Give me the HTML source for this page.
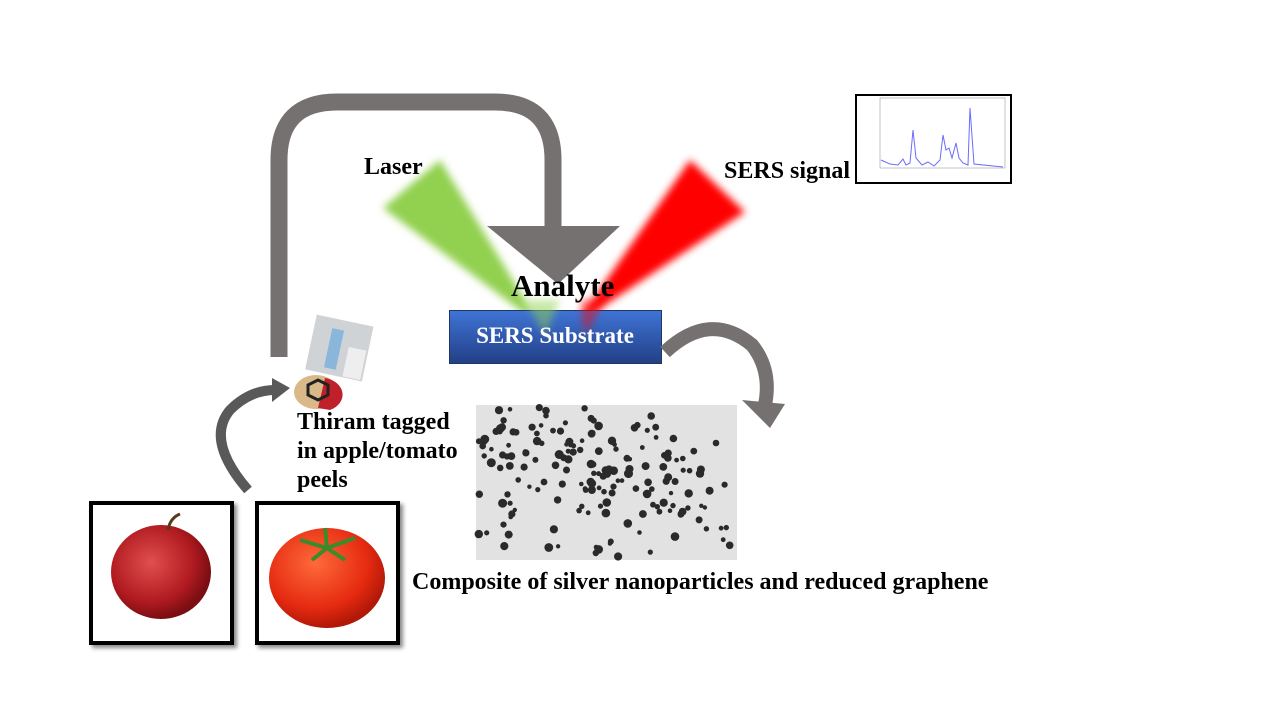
<!DOCTYPE html>
<html><head><meta charset="utf-8"><style>
body{margin:0;width:1280px;height:720px;background:#fff;overflow:hidden;position:relative;font-family:"Liberation Serif",serif;font-weight:bold}
.t{position:absolute;color:#000;white-space:nowrap}
.box{position:absolute;border:4px solid #000;background:#fff;box-shadow:3px 3px 4px #888;box-sizing:border-box}
</style></head><body>
<svg width="1280" height="720" style="position:absolute;left:0;top:0">
<defs>
<filter id="bl" x="-20%" y="-20%" width="140%" height="140%"><feGaussianBlur stdDeviation="4"/></filter>
<linearGradient id="bg" x1="0" y1="0" x2="0" y2="1"><stop offset="0" stop-color="#3f74d6"/><stop offset="1" stop-color="#233f86"/></linearGradient>
<radialGradient id="ap" cx="0.4" cy="0.4" r="0.6"><stop offset="0" stop-color="#e05050"/><stop offset="0.7" stop-color="#b01a20"/><stop offset="1" stop-color="#7a0e12"/></radialGradient>
<radialGradient id="tm" cx="0.4" cy="0.35" r="0.65"><stop offset="0" stop-color="#ff6a3a"/><stop offset="0.7" stop-color="#e52a10"/><stop offset="1" stop-color="#b01808"/></radialGradient>
</defs>
<path d="M279 357 V160 Q279 102 337 102 H495 Q553 102 553 160 V228" fill="none" stroke="#767171" stroke-width="17"/>
<polygon points="487,226 620,226 558,284" fill="#767171"/>
<polygon points="383,208 440,160 540,325" fill="#92d050" filter="url(#bl)"/>
<polygon points="690,160 745,212 575,325" fill="#ff0000" filter="url(#bl)"/>
<rect x="449.5" y="310.5" width="212" height="53" fill="url(#bg)" stroke="#1f3566"/>
<polygon points="525,300 560,300 545,335" fill="#92d050" opacity="0.5" filter="url(#bl)"/>
<polygon points="580,300 605,300 585,335" fill="#ff0000" opacity="0.5" filter="url(#bl)"/>
<path d="M665 352 Q710 310 752 345 Q772 370 765 405" fill="none" stroke="#767171" stroke-width="14"/>
<polygon points="742,400 785,404 770,428" fill="#767171"/>
<path d="M248 490 Q205 440 230 410 Q250 390 275 390" fill="none" stroke="#595959" stroke-width="10"/>
<polygon points="272,378 290,388 272,402" fill="#595959"/>
<rect x="856" y="95" width="155" height="88" fill="#fff" stroke="#000" stroke-width="2"/>
<rect x="880" y="98" width="125" height="70" fill="#fff" stroke="#888" stroke-width="0.5"/>
<polyline points="881,160 890,164 898,165 903,159 906,165 910,163 913,130 916,158 922,165 928,162 934,166 940,160 943,135 946,150 949,148 952,158 956,143 959,158 963,163 968,165 970,108 974,164 1003,167" fill="none" stroke="#6b6bff" stroke-width="1"/>
<g transform="rotate(12 340 340)"><rect x="312" y="320" width="58" height="56" fill="#cfd3d6"/><rect x="330" y="330" width="12" height="40" fill="#8ab6dc"/><rect x="350" y="345" width="18" height="30" fill="#eee"/></g>
<ellipse cx="316" cy="392" rx="22" ry="17" fill="#d9b98a"/><path d="M325 378 A22 17 0 0 1 330 410 L318 408Z" fill="#c0202a"/>
<polygon points="308,385 318,380 328,385 328,395 318,400 308,395" fill="none" stroke="#222" stroke-width="3"/>
<rect x="476" y="405" width="261" height="155" fill="#e2e2e2"/>
<g id="dots"></g>
<ellipse cx="161" cy="572" rx="50" ry="47" fill="url(#ap)"/>
<path d="M168 530 Q170 518 180 514" stroke="#5a3a1a" stroke-width="3" fill="none"/>
<ellipse cx="327" cy="578" rx="58" ry="50" fill="url(#tm)"/>
<path d="M300 540 L327 548 L355 538 M327 548 L325 528 M327 548 L312 560 M327 548 L345 560" stroke="#3c8a2a" stroke-width="4" fill="none"/>
</svg>
<div class="box" style="left:89px;top:501px;width:145px;height:144px;background:transparent"></div>
<div class="box" style="left:255px;top:501px;width:145px;height:144px;background:transparent"></div>
<div class="t" style="left:364px;top:154px;font-size:24px">Laser</div>
<div class="t" style="left:724px;top:158px;font-size:24px">SERS signal</div>
<div class="t" style="left:511px;top:268px;font-size:31px">Analyte</div>
<div class="t" style="left:449px;top:323px;width:212px;text-align:center;font-size:23px;color:#fff">SERS Substrate</div>
<div class="t" style="left:297px;top:408px;font-size:24px;line-height:29px">Thiram tagged<br>in apple/tomato<br>peels</div>
<div class="t" style="left:412px;top:569px;font-size:24px">Composite of silver nanoparticles and reduced graphene</div>
<script>
var s=7,g=document.getElementById('dots'),h='';
function r(){s=(s*9301+49297)%233280;return s/233280;}
for(var i=0;i<220;i++){var x=478+r()*257,y=407+r()*151;var d=Math.abs((y-407)-(x-478)*0.3-20);if(r()<0.6&&d>50)continue;h+='<circle cx="'+x.toFixed(1)+'" cy="'+y.toFixed(1)+'" r="'+(2.2+r()*2.3).toFixed(1)+'" fill="#2a2a2a"/>';}
g.innerHTML=h;
</script>
</body></html>
